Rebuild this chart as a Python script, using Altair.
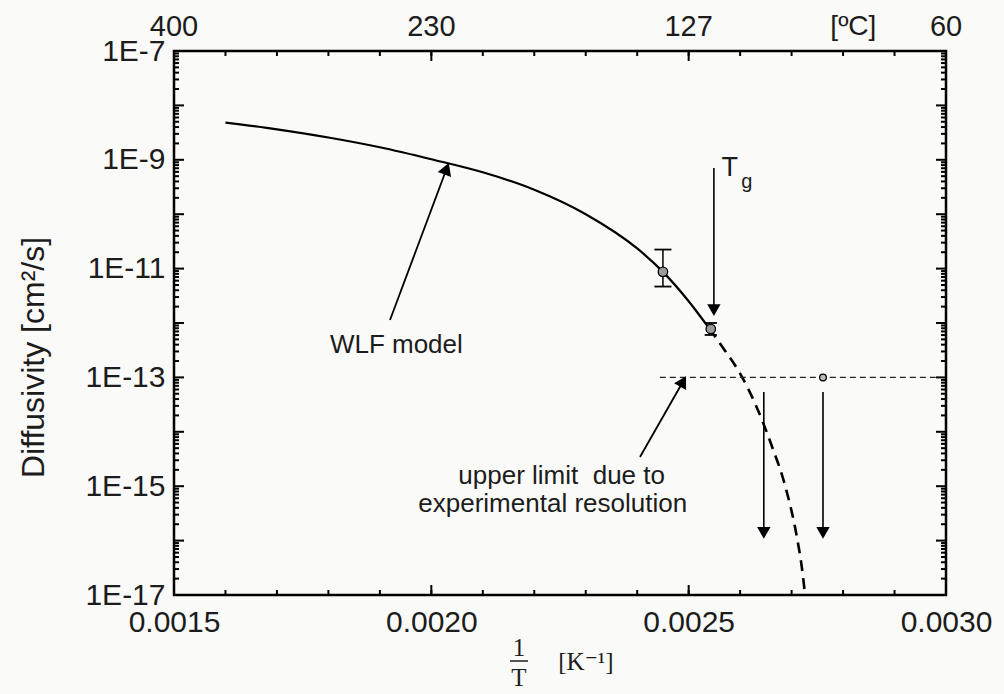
import math
import altair as alt
import pandas as pd

# ---------------- data ----------------
X_MIN, X_MAX = 0.0015, 0.0030          # 1/T [1/K]
EXP_MIN, EXP_MAX = -17, -7             # log10 of diffusivity [cm^2/s]
W, H = 772, 544

# WLF model curve: x = 1/T, value = exponent of D
wlf_solid_x = [0.00160, 0.00170, 0.00180, 0.00190, 0.00200, 0.00210, 0.00220,
               0.00230, 0.00240, 0.00245, 0.00250, 0.00254]
wlf_solid_exp = [-8.315, -8.44, -8.59, -8.77, -8.99, -9.23, -9.55,
                 -10.00, -10.63, -11.06, -11.60, -12.10]
wlf_dash_x = [0.00254, 0.00257, 0.00260, 0.00263, 0.00266, 0.00269, 0.00271,
              0.00272, 0.002726]
wlf_dash_exp = [-12.10, -12.50, -12.93, -13.50, -14.22, -15.08, -15.92, -16.5, -16.98]

# measured diffusivities with error bars
meas_x = [0.00245, 0.002543]
meas_exp = [-11.06, -12.11]
meas_lo_exp = [-11.33, -12.22]
meas_hi_exp = [-10.65, -12.00]

# upper limit (experimental resolution)
limit_line_x = [0.002444, 0.00298]
limit_exp = -13.0
limit_pt_x = [0.002761]
below_x = [0.002646, 0.002761]
below_from_exp = -13.27
below_to_exp = -15.93

# Tg marker
tg_x = 0.002549
tg_from_exp, tg_to_exp = -9.15, -11.835

# annotation arrows (tail x, tail exp, tip x, tip exp)
wlf_arrow = [0.0019197, -11.945, 0.0020324, -9.096]
limit_arrow = [0.0024054, -14.463, 0.0024929, -13.011]

# axis ticks and labels
x_label_vals = [0.0015, 0.0020, 0.0025, 0.0030]
top_labels = ["400", "230", "127", "60"]
unit_c_x = 0.00282
y_label_vals = [1e-7, 1e-9, 1e-11, 1e-13, 1e-15, 1e-17]

# ---------------- helpers ----------------
FONT = "Liberation Sans"
INK = "#1c1c1c"

xscale = alt.Scale(domain=[X_MIN, X_MAX], nice=False, zero=False)
yscale = alt.Scale(type="log", domain=[10.0 ** EXP_MIN, 10.0 ** EXP_MAX], nice=False)

xaxis = alt.Axis(values=x_label_vals, format=".4f", labelFlush=False, ticks=False,
                 grid=False, domain=False, labelFontSize=30, labelPadding=12,
                 labelFont=FONT, labelColor=INK, title=None)
yaxis = alt.Axis(values=y_label_vals,
                 labelExpr="'1E' + round(log(datum.value)/LN10)",
                 ticks=False, grid=False, domain=False, labelFontSize=30,
                 labelPadding=9, labelFont=FONT, labelColor=INK,
                 title="Diffusivity [cm²/s]", titleFont=FONT, titleFontSize=32,
                 titleFontWeight="normal", titleColor=INK,
                 titleAngle=270, titleX=-141, titleY=306,
                 titleAlign="center", titleBaseline="middle")


def X(f="x"):
    return alt.X(f"{f}:Q", scale=xscale, axis=xaxis)


def Y(f="D"):
    return alt.Y(f"{f}:Q", scale=yscale, axis=yaxis)


def D(e):
    return 10.0 ** e


def px_per(dx_data, de):
    return dx_data / (X_MAX - X_MIN) * W, -de / (EXP_MAX - EXP_MIN) * H


def arrow(x0, e0, x1, e1, size=170, width=1.6):
    dx, dy = px_per(x1 - x0, e1 - e0)
    L = math.hypot(dx, dy)
    ux, uy = dx / L, dy / L
    off = 0.433 * math.sqrt(size)
    xc = x1 - off * ux * (X_MAX - X_MIN) / W
    ec = e1 + off * uy * (EXP_MAX - EXP_MIN) / H
    ang = math.degrees(math.atan2(dx, -dy)) % 360
    shaft = alt.Chart(pd.DataFrame({"x": [x0, xc], "D": [D(e0), D(ec)]})).mark_line(
        color="black", strokeWidth=width).encode(x=X(), y=Y())
    head = alt.Chart(pd.DataFrame({"x": [xc], "D": [D(ec)]})).mark_point(
        shape="triangle", size=size, filled=True, color="black", opacity=1,
        angle=ang, strokeWidth=0).encode(x=X(), y=Y())
    return [shaft, head]


layers = []

# ---------------- ticks (inward, all four sides) ----------------
x_minor = [round(X_MIN + i * 0.0001, 5) for i in range(16)]
x_major = x_label_vals
y_major = [D(e) for e in range(EXP_MIN, EXP_MAX + 1)]
y_minor = [k * D(e) for e in range(EXP_MIN, EXP_MAX) for k in range(2, 10)]

dfxmin = pd.DataFrame({"x": x_minor})
dfxmaj = pd.DataFrame({"x": x_major})
dfymin = pd.DataFrame({"D": y_minor})
dfymaj = pd.DataFrame({"D": y_major})

for df, ln in [(dfxmin, 5), (dfxmaj, 10)]:
    layers.append(alt.Chart(df).mark_rule(color="black", strokeWidth=2).encode(
        x=X(), y=alt.value(H), y2=alt.value(H - ln)))
    layers.append(alt.Chart(df).mark_rule(color="black", strokeWidth=2).encode(
        x=X(), y=alt.value(0), y2=alt.value(ln)))
for df, ln in [(dfymin, 5), (dfymaj, 10)]:
    layers.append(alt.Chart(df).mark_rule(color="black", strokeWidth=2).encode(
        y=Y(), x=alt.value(0), x2=alt.value(ln)))
    layers.append(alt.Chart(df).mark_rule(color="black", strokeWidth=2).encode(
        y=Y(), x=alt.value(W), x2=alt.value(W - ln)))

# ---------------- top temperature labels ----------------
top_df = pd.DataFrame({"x": x_label_vals, "t": top_labels})
layers.append(alt.Chart(top_df).mark_text(font=FONT, fontSize=29, color=INK,
                                          baseline="middle").encode(
    x=X(), y=alt.value(-24), text="t:N"))
layers.append(alt.Chart(pd.DataFrame({"x": [unit_c_x], "t": ["[ºC]"]})).mark_text(
    font=FONT, fontSize=28, color=INK, baseline="middle").encode(
    x=X(), y=alt.value(-24), text="t:N"))

# ---------------- curves ----------------
solid_df = pd.DataFrame({"x": wlf_solid_x, "D": [D(e) for e in wlf_solid_exp]})
dash_df = pd.DataFrame({"x": wlf_dash_x, "D": [D(e) for e in wlf_dash_exp]})
layers.append(alt.Chart(solid_df).mark_line(color="black", strokeWidth=2.2,
                                            interpolate="monotone").encode(x=X(), y=Y()))
layers.append(alt.Chart(dash_df).mark_line(color="black", strokeWidth=2.6,
                                           strokeDash=[11, 7],
                                           interpolate="monotone").encode(x=X(), y=Y()))

# resolution limit line
lim_df = pd.DataFrame({"x": limit_line_x, "D": [D(limit_exp)] * 2})
layers.append(alt.Chart(lim_df).mark_line(color="#222", strokeWidth=1.4,
                                          strokeDash=[6, 4]).encode(x=X(), y=Y()))

# ---------------- arrows ----------------
layers += arrow(tg_x, tg_from_exp, tg_x, tg_to_exp, size=180, width=1.6)
for bx in below_x:
    layers += arrow(bx, below_from_exp, bx, below_to_exp, size=180, width=1.6)
layers += arrow(*wlf_arrow, size=200, width=1.8)
layers += arrow(*limit_arrow, size=190, width=1.8)

# ---------------- error bars & points ----------------
eb_df = pd.DataFrame({"x": meas_x, "lo": [D(e) for e in meas_lo_exp],
                      "hi": [D(e) for e in meas_hi_exp]})
layers.append(alt.Chart(eb_df).mark_rule(color="black", strokeWidth=1.5).encode(
    x=X(), y=Y("lo"), y2="hi:Q"))
for i, cap in enumerate([290, 150]):
    one = eb_df.iloc[[i]]
    for f in ["lo", "hi"]:
        layers.append(alt.Chart(one).mark_point(shape="stroke", size=cap, color="black",
                                                strokeWidth=1.8, opacity=1).encode(
            x=X(), y=Y(f)))

pt_df = pd.DataFrame({"x": meas_x, "D": [D(e) for e in meas_exp]})
layers.append(alt.Chart(pt_df).mark_point(shape="circle", size=90, filled=True,
                                          fill="#9a9a9a", stroke="black",
                                          strokeWidth=1.3, opacity=1).encode(x=X(), y=Y()))
lp_df = pd.DataFrame({"x": limit_pt_x, "D": [D(limit_exp)]})
layers.append(alt.Chart(lp_df).mark_point(shape="circle", size=45, filled=True,
                                          fill="#bbbbbb", stroke="black",
                                          strokeWidth=1.3, opacity=1).encode(x=X(), y=Y()))

# ---------------- annotations ----------------
ann = pd.DataFrame({
    "x": [0.001932],
    "D": [D(-12.40)],
    "t": ["WLF model"],
})
layers.append(alt.Chart(ann).mark_text(font=FONT, fontSize=26, color=INK,
                                       baseline="middle", align="center").encode(
    x=X(), y=Y(), text="t:N"))
ann2 = pd.DataFrame({
    "x": [0.002454, 0.002497],
    "D": [D(-14.81), D(-15.33)],
    "t": ["upper limit \u00a0due to", "experimental resolution"],
})
layers.append(alt.Chart(ann2).mark_text(font=FONT, fontSize=26, color=INK,
                                        baseline="middle", align="right").encode(
    x=X(), y=Y(), text="t:N"))
# T_g label
layers.append(alt.Chart(pd.DataFrame({"x": [0.00258], "D": [D(-9.15)], "t": ["T"]})).mark_text(
    font=FONT, fontSize=27, color=INK, baseline="middle", align="center").encode(
    x=X(), y=Y(), text="t:N"))
layers.append(alt.Chart(pd.DataFrame({"x": [0.002613], "D": [D(-9.40)], "t": ["g"]})).mark_text(
    font=FONT, fontSize=20, color=INK, baseline="middle", align="center").encode(
    x=X(), y=Y(), text="t:N"))

# ---------------- x axis title: 1/T [K^-1] ----------------
SERIF = "Liberation Serif, DejaVu Serif"
layers.append(alt.Chart(pd.DataFrame({"t": ["1"]})).mark_text(
    font=SERIF, fontSize=25, color=INK, baseline="middle", align="center").encode(
    x=alt.value(345), y=alt.value(597), text="t:N"))
layers.append(alt.Chart(pd.DataFrame({"t": ["T"]})).mark_text(
    font=SERIF, fontSize=25, color=INK, baseline="middle", align="center").encode(
    x=alt.value(345), y=alt.value(627), text="t:N"))
layers.append(alt.Chart(pd.DataFrame({"t": ["bar"]})).mark_rule(
    color=INK, strokeWidth=1.5).encode(
    x=alt.value(336), x2=alt.value(354), y=alt.value(610)))
layers.append(alt.Chart(pd.DataFrame({"t": ["[K⁻¹]"]})).mark_text(
    font=SERIF, fontSize=25, color=INK, baseline="middle", align="center").encode(
    x=alt.value(412), y=alt.value(611), text="t:N"))

chart = alt.layer(*layers).properties(
    width=W, height=H,
    padding={"left": 174, "top": 51, "right": 58, "bottom": 99},
    autosize=alt.AutoSizeParams(type="none"),
    background="#fafaf8",
).configure_view(stroke="black", strokeWidth=2.5)

chart.save("out.html", embed_options={"renderer": "svg", "actions": False})
